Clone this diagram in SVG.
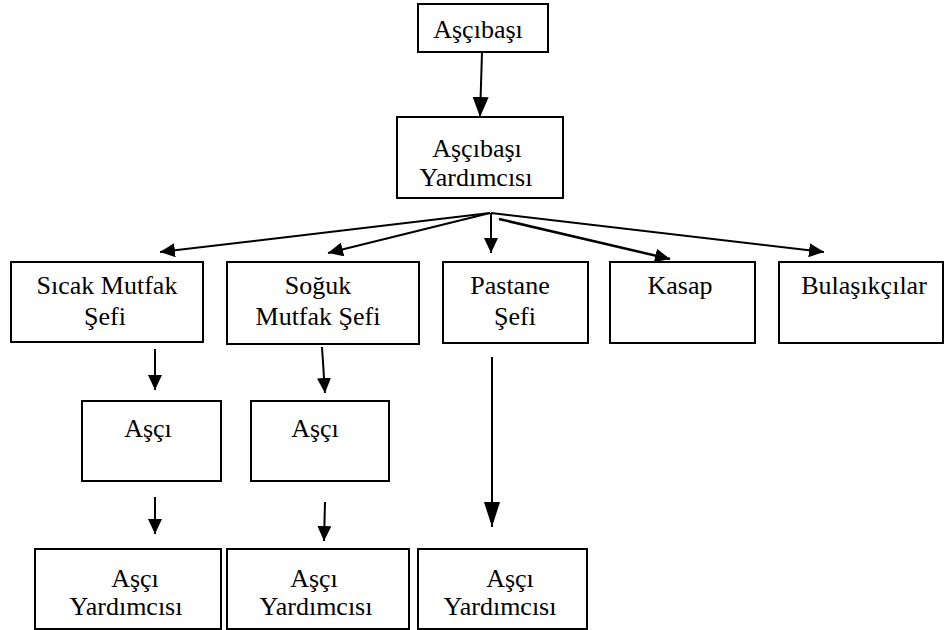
<svg xmlns="http://www.w3.org/2000/svg" width="944" height="630" viewBox="0 0 944 630">
<style>
.box{fill:#fff;stroke:#000;stroke-width:2}
.t{font-size:26px;fill:#000}
.c{fill:none;stroke:#000;stroke-width:2}
</style>
<defs>
<marker id="ah" markerUnits="userSpaceOnUse" markerWidth="16" markerHeight="14" refX="15" refY="7" orient="auto">
<path d="M0,0 L15,7 L0,14 z" fill="#000"/>
</marker>
<marker id="ahL" markerUnits="userSpaceOnUse" markerWidth="21" markerHeight="16" refX="20" refY="8" orient="auto">
<path d="M0,0 L20,8 L0,16 z" fill="#000"/>
</marker>
<marker id="ahXL" markerUnits="userSpaceOnUse" markerWidth="26" markerHeight="16" refX="25" refY="8" orient="auto">
<path d="M0,0 L25,8 L0,16 z" fill="#000"/>
</marker>
</defs>
<rect width="944" height="630" fill="#fff"/>
<g id="connectors">
<line class="c" x1="482" y1="52" x2="480" y2="117" marker-end="url(#ahL)"/>
<line class="c" x1="490" y1="213" x2="160" y2="252" marker-end="url(#ah)"/>
<line class="c" x1="490" y1="213" x2="328" y2="253" marker-end="url(#ah)"/>
<line class="c" x1="491" y1="213" x2="491" y2="253" marker-end="url(#ah)"/>
<line class="c" x1="499" y1="219" x2="670" y2="259" marker-end="url(#ah)" style="stroke-width:2.5"/>
<line class="c" x1="491" y1="213" x2="824" y2="252" marker-end="url(#ah)"/>
<line class="c" x1="155" y1="349" x2="155" y2="390" marker-end="url(#ah)"/>
<line class="c" x1="322" y1="347" x2="325" y2="393" marker-end="url(#ah)"/>
<line class="c" x1="155" y1="497" x2="155" y2="534" marker-end="url(#ah)"/>
<line class="c" x1="325" y1="502" x2="324" y2="541" marker-end="url(#ah)"/>
<line class="c" x1="492" y1="357" x2="492" y2="527" marker-end="url(#ahXL)"/>
</g>
<g id="n-ascibasi">
<rect class="box" x="418" y="4" width="130" height="48"/>
<text class="t" font-family="Liberation Serif, serif" text-anchor="middle" x="478" y="38">Aşçıbaşı</text>
</g>
<g id="n-ascibasi-yard">
<rect class="box" x="397" y="117" width="166" height="81"/>
<text class="t" font-family="Liberation Serif, serif" text-anchor="middle" x="477" y="157">Aşçıbaşı</text>
<text class="t" font-family="Liberation Serif, serif" text-anchor="middle" x="476" y="186">Yardımcısı</text>
</g>
<g id="n-sicak">
<rect class="box" x="11" y="262" width="192" height="80"/>
<text class="t" font-family="Liberation Serif, serif" text-anchor="middle" x="107" y="294">Sıcak Mutfak</text>
<text class="t" font-family="Liberation Serif, serif" text-anchor="middle" x="105" y="325">Şefi</text>
</g>
<g id="n-soguk">
<rect class="box" x="227" y="262" width="192" height="82"/>
<text class="t" font-family="Liberation Serif, serif" text-anchor="middle" x="318" y="294">Soğuk</text>
<text class="t" font-family="Liberation Serif, serif" text-anchor="middle" x="318" y="325">Mutfak Şefi</text>
</g>
<g id="n-pastane">
<rect class="box" x="443" y="262" width="145" height="81"/>
<text class="t" font-family="Liberation Serif, serif" text-anchor="middle" x="510" y="294">Pastane</text>
<text class="t" font-family="Liberation Serif, serif" text-anchor="middle" x="515" y="325">Şefi</text>
</g>
<g id="n-kasap">
<rect class="box" x="610" y="262" width="145" height="81"/>
<text class="t" font-family="Liberation Serif, serif" text-anchor="middle" x="680" y="294">Kasap</text>
</g>
<g id="n-bulasikcilar">
<rect class="box" x="779" y="262" width="164" height="81"/>
<text class="t" font-family="Liberation Serif, serif" text-anchor="middle" x="864" y="294">Bulaşıkçılar</text>
</g>
<g id="n-asci1">
<rect class="box" x="82" y="401" width="139" height="80"/>
<text class="t" font-family="Liberation Serif, serif" text-anchor="middle" x="148" y="437">Aşçı</text>
</g>
<g id="n-asci2">
<rect class="box" x="251" y="401" width="138" height="80"/>
<text class="t" font-family="Liberation Serif, serif" text-anchor="middle" x="315" y="437">Aşçı</text>
</g>
<g id="n-yard1">
<rect class="box" x="35" y="549" width="186" height="80"/>
<text class="t" font-family="Liberation Serif, serif" text-anchor="middle" x="135" y="587">Aşçı</text>
<text class="t" font-family="Liberation Serif, serif" text-anchor="middle" x="126" y="615">Yardımcısı</text>
</g>
<g id="n-yard2">
<rect class="box" x="227" y="549" width="182" height="80"/>
<text class="t" font-family="Liberation Serif, serif" text-anchor="middle" x="314" y="587">Aşçı</text>
<text class="t" font-family="Liberation Serif, serif" text-anchor="middle" x="316" y="615">Yardımcısı</text>
</g>
<g id="n-yard3">
<rect class="box" x="418" y="549" width="169" height="80"/>
<text class="t" font-family="Liberation Serif, serif" text-anchor="middle" x="510" y="587">Aşçı</text>
<text class="t" font-family="Liberation Serif, serif" text-anchor="middle" x="500" y="615">Yardımcısı</text>
</g>
</svg>
